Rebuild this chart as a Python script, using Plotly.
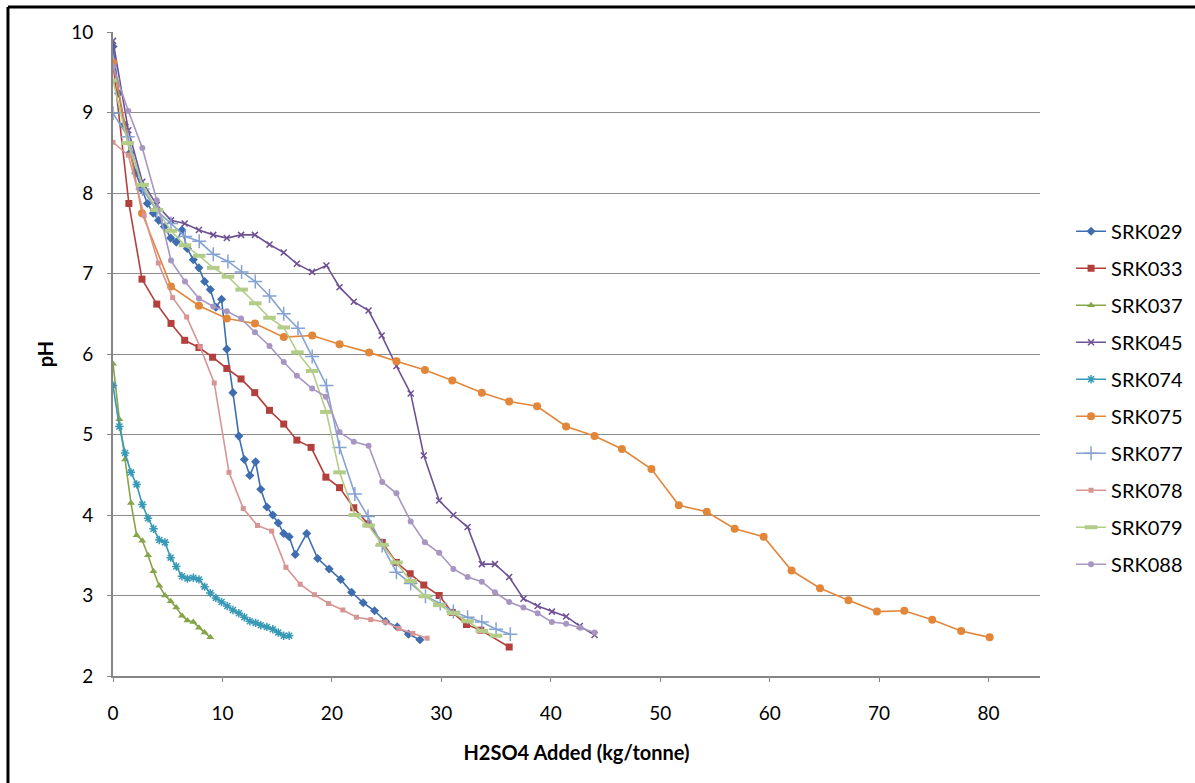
import plotly.graph_objects as go

# H2SO4 addition (kg/tonne) and resulting pH for each sample
srk029_x = [0, 0.52, 1.04, 1.56, 2.08, 2.6, 3.14, 3.68, 4.17, 4.7, 5.27, 5.78, 6.3, 6.79, 7.34, 7.85, 8.37, 8.89,
            9.4, 9.92, 10.4, 10.96, 11.5, 12.0, 12.5, 13.03, 13.5, 14.06, 14.6, 15.1, 15.6, 16.1, 16.65, 17.7,
            18.7, 19.75, 20.8, 21.8, 22.86, 23.9, 24.9, 25.97, 27.0, 28.04]
srk029_y = [9.82, 9.24, 8.85, 8.5, 8.25, 8.05, 7.87, 7.75, 7.66, 7.58, 7.44, 7.39, 7.54, 7.31, 7.17, 7.07, 6.90, 6.80,
            6.58, 6.68, 6.06, 5.52, 4.98, 4.69, 4.49, 4.66, 4.32, 4.10, 4.00, 3.90, 3.77, 3.73, 3.51, 3.77,
            3.46, 3.33, 3.20, 3.04, 2.91, 2.81, 2.68, 2.61, 2.52, 2.45]

srk033_x = [0, 1.45, 2.65, 4.0, 5.3, 6.55, 7.85, 9.1, 10.4, 11.7, 12.95, 14.3, 15.6, 16.8, 18.1, 19.45, 20.7,
            22.0, 23.3, 24.6, 25.9, 27.15, 28.4, 29.8, 31.0, 32.3, 33.6, 36.2]
srk033_y = [9.62, 7.87, 6.93, 6.62, 6.38, 6.17, 6.08, 5.96, 5.82, 5.69, 5.52, 5.30, 5.13, 4.93, 4.84, 4.47, 4.34,
            4.09, 3.89, 3.66, 3.41, 3.27, 3.13, 3.00, 2.79, 2.64, 2.57, 2.36]

srk037_x = [0, 0.58, 1.1, 1.64, 2.16, 2.68, 3.2, 3.7, 4.23, 4.75, 5.27, 5.78, 6.3, 6.8, 7.34, 7.85, 8.37, 8.89]
srk037_y = [5.88, 5.19, 4.69, 4.15, 3.75, 3.68, 3.50, 3.30, 3.12, 3.00, 2.93, 2.85, 2.75, 2.69, 2.67, 2.60, 2.54, 2.48]

srk045_x = [0, 1.4, 2.68, 4.0, 5.3, 6.55, 7.85, 9.16, 10.4, 11.7, 12.97, 14.3, 15.6, 16.8, 18.2, 19.5, 20.7,
            22.0, 23.35, 24.55, 25.9, 27.2, 28.4, 29.8, 31.1, 32.4, 33.7, 34.9, 36.2, 37.5, 38.8, 40.1, 41.4,
            42.65, 44.0]
srk045_y = [9.89, 8.78, 8.14, 7.85, 7.66, 7.62, 7.54, 7.48, 7.44, 7.48, 7.48, 7.36, 7.26, 7.12, 7.02, 7.10, 6.83,
            6.65, 6.54, 6.23, 5.85, 5.51, 4.74, 4.18, 4.00, 3.85, 3.39, 3.39, 3.23, 2.96, 2.87, 2.80, 2.74,
            2.62, 2.51]

srk074_x = [0, 0.58, 1.1, 1.64, 2.16, 2.68, 3.2, 3.7, 4.23, 4.75, 5.27, 5.78, 6.3, 6.8, 7.34, 7.85, 8.37, 8.89,
            9.4, 9.92, 10.44, 10.96, 11.5, 12.0, 12.5, 13.03, 13.5, 14.06, 14.6, 15.1, 15.6, 16.1]
srk074_y = [5.61, 5.10, 4.77, 4.53, 4.38, 4.13, 3.96, 3.83, 3.69, 3.66, 3.47, 3.36, 3.24, 3.21, 3.22, 3.20, 3.11, 3.03,
            2.97, 2.92, 2.87, 2.82, 2.78, 2.73, 2.68, 2.66, 2.63, 2.61, 2.58, 2.54, 2.50, 2.50]

srk075_x = [0, 2.65, 5.3, 7.85, 10.4, 12.97, 15.6, 18.2, 20.7, 23.4, 25.9, 28.5, 31.0, 33.7, 36.2, 38.75, 41.4,
            44.0, 46.5, 49.2, 51.7, 54.25, 56.8, 59.45, 62.0, 64.6, 67.2, 69.8, 72.3, 74.85, 77.5, 80.1]
srk075_y = [9.62, 7.75, 6.84, 6.60, 6.44, 6.38, 6.21, 6.23, 6.12, 6.02, 5.91, 5.80, 5.67, 5.52, 5.41, 5.35, 5.10,
            4.98, 4.82, 4.57, 4.12, 4.04, 3.83, 3.73, 3.31, 3.09, 2.94, 2.80, 2.81, 2.70, 2.56, 2.48]

srk077_x = [0, 1.35, 2.7, 4.0, 5.3, 6.6, 7.88, 9.16, 10.5, 11.75, 13.0, 14.3, 15.6, 16.9, 18.2, 19.5, 20.7, 22.1,
            23.3, 24.6, 25.9, 27.2, 28.55, 29.9, 31.1, 32.4, 33.7, 35.0, 36.3]
srk077_y = [8.99, 8.70, 8.05, 7.78, 7.62, 7.46, 7.40, 7.24, 7.15, 7.02, 6.90, 6.72, 6.50, 6.32, 5.97, 5.61, 4.84, 4.26,
            3.98, 3.62, 3.29, 3.15, 2.99, 2.90, 2.80, 2.73, 2.67, 2.58, 2.52]

srk078_x = [0, 1.4, 2.85, 4.14, 5.45, 6.73, 7.95, 9.25, 10.6, 11.9, 13.2, 14.5, 15.8, 17.1, 18.4, 19.7, 21.0,
            22.25, 23.55, 24.9, 26.1, 27.4, 28.7]
srk078_y = [8.63, 8.47, 7.72, 7.13, 6.70, 6.46, 6.09, 5.64, 4.53, 4.08, 3.87, 3.80, 3.35, 3.14, 3.01, 2.90, 2.82,
            2.73, 2.70, 2.67, 2.59, 2.53, 2.47]

srk079_x = [0, 1.35, 2.7, 4.0, 5.3, 6.58, 7.88, 9.16, 10.5, 11.75, 13.0, 14.3, 15.6, 16.85, 18.2, 19.5, 20.7, 22.1,
            23.35, 24.6, 25.9, 27.2, 28.5, 29.8, 31.1, 32.4, 33.7, 35.0]
srk079_y = [9.40, 8.62, 8.10, 7.79, 7.53, 7.35, 7.22, 7.07, 6.96, 6.80, 6.63, 6.45, 6.33, 6.02, 5.79, 5.28, 4.53, 4.00,
            3.87, 3.63, 3.41, 3.18, 2.99, 2.88, 2.78, 2.68, 2.56, 2.50]

srk088_x = [0, 1.4, 2.68, 4.0, 5.3, 6.58, 7.85, 9.16, 10.4, 11.7, 12.97, 14.3, 15.6, 16.8, 18.2, 19.45, 20.7, 22.0,
            23.35, 24.6, 25.9, 27.2, 28.5, 29.8, 31.1, 32.4, 33.7, 34.9, 36.2, 37.5, 38.8, 40.1, 41.4, 42.7, 44.0]
srk088_y = [9.57, 9.02, 8.56, 7.91, 7.16, 6.90, 6.69, 6.59, 6.53, 6.44, 6.27, 6.10, 5.90, 5.73, 5.57, 5.47, 5.03, 4.91,
            4.86, 4.41, 4.27, 3.92, 3.66, 3.53, 3.33, 3.23, 3.17, 3.04, 2.92, 2.85, 2.78, 2.67, 2.65, 2.60, 2.54]

x_ticks = [0, 10, 20, 30, 40, 50, 60, 70, 80]
y_ticks = [2, 3, 4, 5, 6, 7, 8, 9, 10]

series = [
    ("SRK029", srk029_x, srk029_y, "#3F6EB0", dict(symbol="diamond", size=7)),
    ("SRK033", srk033_x, srk033_y, "#B3403D", dict(symbol="square", size=7)),
    ("SRK037", srk037_x, srk037_y, "#86A548", dict(symbol="triangle-up", size=7)),
    ("SRK045", srk045_x, srk045_y, "#6E5194", dict(symbol="x-thin-open", size=6, line=dict(width=1.5))),
    ("SRK074", srk074_x, srk074_y, "#3799B5", dict(symbol="asterisk-open", size=7, line=dict(width=1.5))),
    ("SRK075", srk075_x, srk075_y, "#E2873A", dict(symbol="circle", size=8)),
    ("SRK077", srk077_x, srk077_y, "#84A2D2", dict(symbol="cross-thin-open", size=10, line=dict(width=1.5))),
    ("SRK078", srk078_x, srk078_y, "#D69594", dict(symbol="square", size=5)),
    ("SRK079", srk079_x, srk079_y, "#B3CD88", dict(symbol="line-ew-open", size=9, line=dict(width=4))),
    ("SRK088", srk088_x, srk088_y, "#A796C2", dict(symbol="circle", size=6)),
]

fig = go.Figure()
for name, xs, ys, color, mk in series:
    marker = dict(color=color, **mk)
    if "line" in mk:
        marker["line"] = dict(color=color, width=mk["line"]["width"])
    fig.add_trace(go.Scatter(
        x=xs, y=ys, name=name, mode="lines+markers",
        line=dict(color=color, width=1.6),
        marker=marker, legendgroup=name,
    ))

FONT = "Lato, Carlito, Calibri, sans-serif"

fig.update_layout(
    width=1195, height=783,
    margin=dict(l=113, r=155, t=32, b=107, autoexpand=False),
    paper_bgcolor="white", plot_bgcolor="white",
    font=dict(family=FONT, size=19, color="black"),
    showlegend=True,
    legend=dict(x=1.0335, y=0.721, xanchor="left", yanchor="top",
                tracegroupgap=8, font=dict(size=20, family=FONT),
                bgcolor="rgba(0,0,0,0)"),
    xaxis=dict(range=[0, 84.7], tickvals=x_ticks, showgrid=False,
               showline=True, linecolor="#868686", linewidth=2,
               ticks="outside", ticklen=4, tickcolor="#868686",
               tickfont=dict(size=19), ticklabelstandoff=15, zeroline=False,
               title=dict(text="<b>H2SO4 Added (kg/tonne)</b>", font=dict(size=20), standoff=23)),
    yaxis=dict(range=[2, 10], tickvals=y_ticks, showgrid=True, gridcolor="#8C8C8C", gridwidth=1.3,
               showline=True, linecolor="#868686", linewidth=2,
               ticks="outside", ticklen=4, tickcolor="#868686",
               tickfont=dict(size=19), ticklabelstandoff=10, zeroline=False,
               title=dict(text="<b>pH</b>", font=dict(size=20), standoff=12)),
    shapes=[
        dict(type="line", xref="paper", yref="paper", x0=-0.1133, x1=1.2, y0=1.0388, y1=1.0388,
             line=dict(color="black", width=3)),
        dict(type="line", xref="paper", yref="paper", x0=-0.1133, x1=-0.1133, y0=-0.2, y1=1.0388,
             line=dict(color="black", width=3)),
    ],
)

fig.write_html("out.html")
